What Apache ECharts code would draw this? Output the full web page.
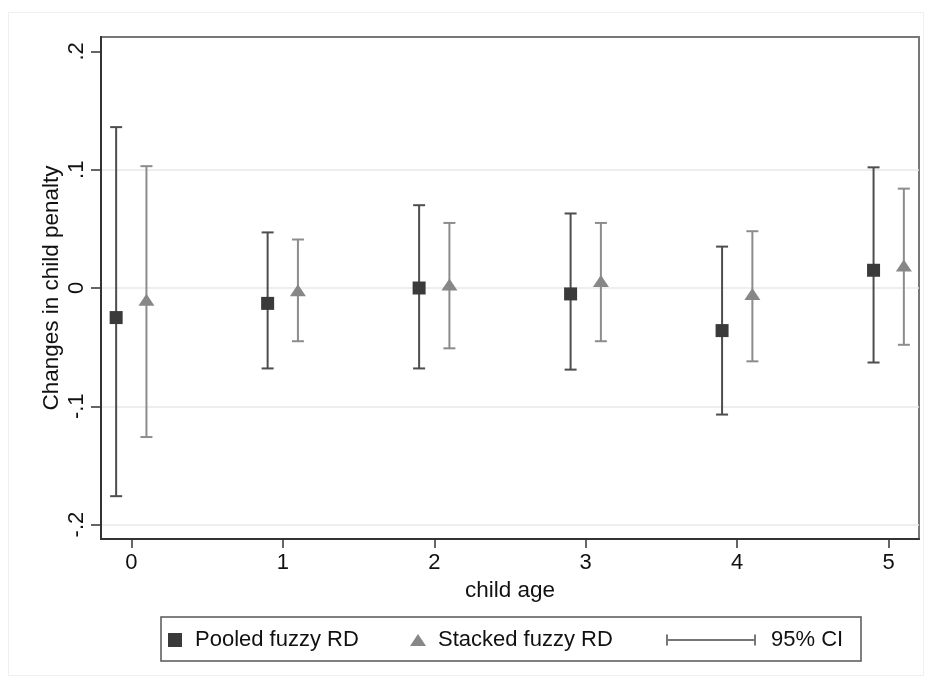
<!DOCTYPE html>
<html>
<head>
<meta charset="utf-8">
<script src="https://cdn.jsdelivr.net/npm/echarts@6/dist/echarts.min.js"></script>
<style>
html,body{margin:0;padding:0;background:#fff;}
#chart{width:932px;height:686px;}
</style>
</head>
<body>
<div id="chart"></div>
<script>
// ---- data ----
var ages = [0, 1, 2, 3, 4, 5];
var pooledEst  = [-0.025, -0.013, 0.000, -0.005, -0.036, 0.015];
var pooledLow  = [-0.176, -0.068, -0.068, -0.069, -0.107, -0.063];
var pooledHigh = [ 0.136,  0.047,  0.070,  0.063,  0.035,  0.102];
var stackedEst  = [-0.010, -0.002, 0.003, 0.006, -0.005, 0.019];
var stackedLow  = [-0.126, -0.045, -0.051, -0.045, -0.062, -0.048];
var stackedHigh = [ 0.103,  0.041,  0.055,  0.055,  0.048,  0.084];
var xTickValues = [0, 1, 2, 3, 4, 5];
var yTickValues = [-0.2, -0.1, 0, 0.1, 0.2];
var yTickLabels = ['-.2', '-.1', '0', '.1', '.2'];
var seriesNames = ['Pooled fuzzy RD', 'Stacked fuzzy RD', '95% CI'];
var xTitle = 'child age';
var yTitle = 'Changes in child penalty';

// ---- layout / style ----
var OFFSET = 0.1;
var FONT = 'Liberation Sans';
var LABEL_SIZE = 22, TITLE_SIZE = 22.5, LEGEND_SIZE = 22;
var pooledColor = '#3a3a3a', pooledCIColor = '#4d4d4d';
var stackedColor = '#878787', stackedCIColor = '#8c8c8c';

function pts(est, shift) {
  return ages.map(function (a, i) { return [a + shift, est[i]]; });
}
function ci(lo, hi, shift) {
  return ages.map(function (a, i) { return [a + shift, lo[i], hi[i]]; });
}
function makeRender(color) {
  return function (params, api) {
    var x = api.value(0), lo = api.value(1), hi = api.value(2);
    var pLo = api.coord([x, lo]), pHi = api.coord([x, hi]);
    var w = 6;
    var st = { stroke: color, lineWidth: 2, fill: null };
    return {
      type: 'group',
      children: [
        { type: 'line', shape: { x1: pLo[0], y1: pLo[1], x2: pHi[0], y2: pHi[1] }, style: st },
        { type: 'line', shape: { x1: pLo[0] - w, y1: pLo[1], x2: pLo[0] + w, y2: pLo[1] }, style: st },
        { type: 'line', shape: { x1: pHi[0] - w, y1: pHi[1], x2: pHi[0] + w, y2: pHi[1] }, style: st }
      ]
    };
  };
}

var legendText = { fontSize: LEGEND_SIZE, color: '#111', fontFamily: FONT };
function lt(pad) { return Object.assign({}, legendText, { padding: [0, 0, 0, pad] }); }

var chart = echarts.init(document.getElementById('chart'), null, { renderer: 'canvas' });
chart.setOption({
  backgroundColor: '#ffffff',
  animation: false,
  textStyle: { fontFamily: FONT },
  graphic: [
    { type: 'rect', z: -10, silent: true,
      shape: { x: 8.5, y: 12.5, width: 915, height: 663 },
      style: { fill: null, stroke: '#efefef', lineWidth: 1 } },
    { type: 'rect', z: 10, silent: true,
      shape: { x: 161, y: 617, width: 700, height: 44 },
      style: { fill: null, stroke: '#555', lineWidth: 1.5 } }
  ],
  grid: { left: 101, top: 37, width: 818, height: 502, show: true,
          borderColor: '#777', borderWidth: 2, backgroundColor: '#fff' },
  xAxis: {
    type: 'value', min: -0.2, max: 5.2,
    name: xTitle, nameLocation: 'middle', nameGap: 40, nameMoveOverlap: false,
    nameTextStyle: { fontSize: TITLE_SIZE, color: '#111', fontFamily: FONT },
    axisLine: { show: true, onZero: false, lineStyle: { color: '#333', width: 2 } },
    axisTick: { show: true, customValues: xTickValues, length: 9, lineStyle: { color: '#333', width: 1.5 } },
    axisLabel: { customValues: xTickValues, fontSize: LABEL_SIZE, color: '#111', margin: 13, fontFamily: FONT },
    splitLine: { show: false }
  },
  yAxis: {
    type: 'value', min: -0.2122, max: 0.2122,
    name: yTitle, nameLocation: 'middle', nameGap: 38, nameMoveOverlap: false,
    nameTextStyle: { fontSize: TITLE_SIZE, color: '#111', fontFamily: FONT },
    axisLine: { show: true, onZero: false, lineStyle: { color: '#333', width: 2 } },
    axisTick: { show: true, customValues: yTickValues, length: 10, lineStyle: { color: '#333', width: 1.5 } },
    axisLabel: {
      customValues: yTickValues, rotate: 90, fontSize: LABEL_SIZE, color: '#111', margin: 13, fontFamily: FONT,
      formatter: function (v) {
        for (var i = 0; i < yTickValues.length; i++) {
          if (Math.abs(yTickValues[i] - v) < 1e-9) return yTickLabels[i];
        }
        return '';
      }
    },
    splitLine: { show: true, lineStyle: { color: ['#e8e8e8', '#e8e8e8', '#e8e8e8', '#e8e8e8', 'rgba(0,0,0,0)'], width: 1.5 } }
  },
  legend: [
    { data: [seriesNames[0]], left: 168, top: 629, padding: 0, itemWidth: 14, itemHeight: 14,
      selectedMode: false, textStyle: lt(8) },
    { data: [seriesNames[1]], left: 410, top: 629, padding: 0, itemWidth: 16, itemHeight: 12,
      selectedMode: false, textStyle: lt(7) },
    { data: [{ name: seriesNames[2],
               icon: 'path://M0,0H2V11H0Z M0,4.5H90V6.5H0Z M88,0H90V11H88Z',
               itemStyle: { color: '#777' } }],
      left: 666, top: 629, padding: 0, itemWidth: 90, itemHeight: 11,
      selectedMode: false, textStyle: lt(10) }
  ],
  series: [
    { name: seriesNames[2], type: 'custom', z: 3, renderItem: makeRender(pooledCIColor),
      itemStyle: { color: '#777' }, data: ci(pooledLow, pooledHigh, -OFFSET) },
    { name: seriesNames[2], type: 'custom', z: 3, renderItem: makeRender(stackedCIColor),
      itemStyle: { color: '#777' }, data: ci(stackedLow, stackedHigh, OFFSET) },
    { name: seriesNames[0], type: 'scatter', z: 5, symbol: 'rect', symbolSize: 13,
      itemStyle: { color: pooledColor, opacity: 1 }, data: pts(pooledEst, -OFFSET) },
    { name: seriesNames[1], type: 'scatter', z: 5, symbol: 'triangle', symbolSize: [16, 12],
      itemStyle: { color: stackedColor, opacity: 1 }, data: pts(stackedEst, OFFSET) }
  ]
});
</script>
</body>
</html>
